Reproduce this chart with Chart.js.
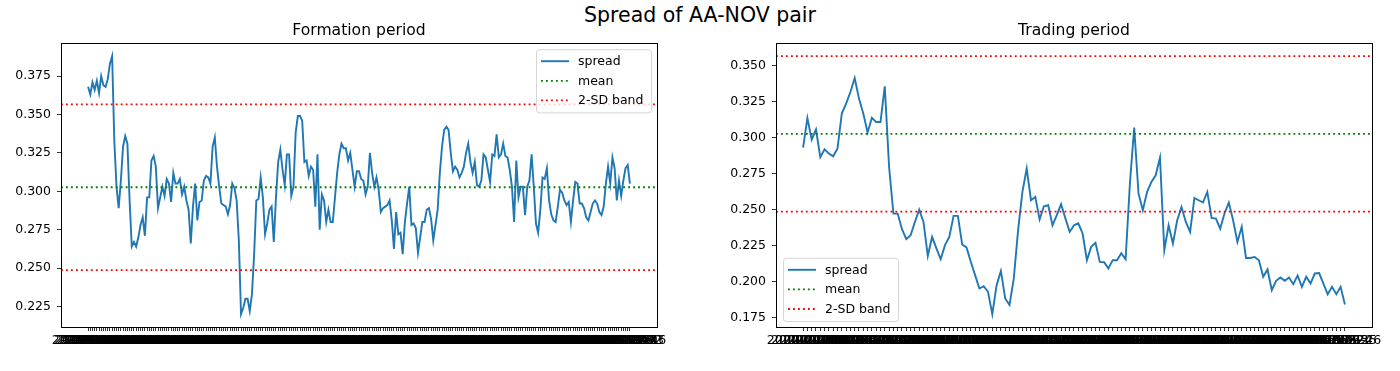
<!DOCTYPE html>
<html>
<head>
<meta charset="utf-8">
<script src="https://cdn.jsdelivr.net/npm/chart.js@4.4.1/dist/chart.umd.min.js"></script>
<style>
  html, body { margin:0; padding:0; background:#fff; width:1400px; height:371px; overflow:hidden; font-family:"DejaVu Sans", sans-serif; }
  #sup { position:absolute; left:0; top:3px; width:1400px; text-align:center; font-size:20.5px; color:#000; line-height:normal; }
  .box { position:absolute; top:0; width:700px; height:371px; }
</style>
</head>
<body>
<div id="sup">Spread of AA-NOV pair</div>
<div class="box" style="left:0"><canvas id="c1" width="700" height="371"></canvas></div>
<div class="box" style="left:700px"><canvas id="c2" width="700" height="371"></canvas></div>
<script>
// ---------------- DATA ----------------
const formationSpread = [
  0.368, 0.363, 0.371, 0.366, 0.372, 0.364, 0.375, 0.369, 0.368, 0.373, 0.383, 0.388,
  0.333, 0.303, 0.289, 0.307, 0.329, 0.336, 0.331, 0.294, 0.264, 0.267, 0.264, 0.270, 0.278, 0.283, 0.271, 0.296, 0.296, 0.320,
  0.323, 0.316, 0.289, 0.296, 0.303, 0.297, 0.308, 0.305, 0.293, 0.312, 0.305, 0.305, 0.308, 0.298, 0.303, 0.294, 0.288, 0.266, 0.290, 0.305,
  0.281, 0.293, 0.294, 0.307, 0.310, 0.309, 0.305, 0.329, 0.335, 0.316, 0.303, 0.292, 0.291, 0.290, 0.285, 0.291, 0.305, 0.302, 0.294, 0.268,
  0.220, 0.224, 0.230, 0.230, 0.222, 0.233, 0.259, 0.294, 0.295,
  0.309, 0.296, 0.272, 0.279, 0.288, 0.290, 0.267, 0.296, 0.319, 0.327,
  0.314, 0.304, 0.324, 0.324, 0.297, 0.303, 0.338, 0.349, 0.349, 0.346,
  0.319, 0.320, 0.310, 0.316, 0.314, 0.290, 0.324, 0.275, 0.298, 0.294,
  0.280, 0.288, 0.280, 0.280, 0.296, 0.312, 0.324, 0.331, 0.328, 0.328,
  0.320, 0.325, 0.314, 0.303, 0.313, 0.313, 0.308, 0.307, 0.298, 0.303,
  0.325, 0.312, 0.303, 0.309, 0.301, 0.2865, 0.289, 0.290, 0.291, 0.294,
  0.281, 0.2625, 0.2865, 0.272, 0.273, 0.259, 0.280, 0.292, 0.303, 0.278,
  0.279, 0.276, 0.260, 0.270, 0.280, 0.280, 0.288, 0.289, 0.282, 0.268,
  0.278, 0.288, 0.312, 0.329, 0.340, 0.342, 0.340, 0.325, 0.313,
  0.316, 0.314, 0.309, 0.312, 0.316, 0.325, 0.331, 0.319, 0.312, 0.319,
  0.304, 0.303, 0.307, 0.324, 0.322, 0.314, 0.306, 0.324, 0.323, 0.337,
  0.322, 0.324, 0.331, 0.323, 0.322, 0.314, 0.303, 0.280, 0.320, 0.296,
  0.303, 0.303, 0.2845, 0.303, 0.307, 0.324, 0.303, 0.279, 0.273, 0.288,
  0.309, 0.308, 0.315, 0.294, 0.285, 0.281, 0.280, 0.290, 0.301, 0.299,
  0.294, 0.291, 0.293, 0.280, 0.294, 0.306, 0.305, 0.292, 0.292, 0.289,
  0.283, 0.281, 0.2865, 0.292, 0.294, 0.292, 0.2865, 0.2845, 0.290, 0.305,
  0.316, 0.305, 0.322, 0.315, 0.294, 0.307, 0.297, 0.307, 0.315, 0.317,
  0.305
];
const tradingSpread = [
  0.2931, 0.3136, 0.2986, 0.3056, 0.2865, 0.2919, 0.2889, 0.2870, 0.2924, 0.3167,
  0.3236, 0.3317, 0.3414, 0.3271, 0.3167, 0.3035, 0.3138, 0.3108, 0.3108, 0.3356,
  0.2796, 0.2472, 0.2472, 0.2364, 0.2294, 0.2322, 0.2414, 0.2500, 0.2414, 0.2178,
  0.2310, 0.2230, 0.2155, 0.2253, 0.2310, 0.2456, 0.2456, 0.2257, 0.2237, 0.2137,
  0.2045, 0.1952, 0.1968, 0.1929, 0.1774, 0.1975, 0.2074, 0.1883, 0.1837, 0.2022,
  0.2357, 0.2623, 0.2785, 0.2565, 0.2588, 0.2431, 0.2523, 0.2530, 0.2391, 0.2461,
  0.2537, 0.2438, 0.2345, 0.2391, 0.2405, 0.2334, 0.2148, 0.2241, 0.2269, 0.2137,
  0.2134, 0.2092, 0.2149, 0.2148, 0.2197, 0.2155, 0.2681, 0.3069, 0.2612, 0.2495,
  0.2623, 0.2692, 0.2738, 0.2861,
  0.2218, 0.2391, 0.2264, 0.2426, 0.2518, 0.2414, 0.2345, 0.2581, 0.2565, 0.2549,
  0.2623, 0.2442, 0.2438, 0.2368, 0.2473, 0.2549, 0.2426, 0.2275, 0.2380, 0.2164,
  0.2164, 0.2171, 0.2148, 0.2033, 0.2084, 0.1940, 0.2005, 0.2028, 0.2005, 0.2028,
  0.1982, 0.2042, 0.1963, 0.2033, 0.1986, 0.2056, 0.2059, 0.1986, 0.1912, 0.1963,
  0.1912, 0.1963, 0.1841
];
const spreadMean = 0.3026;
const bandUpper = 0.3566;
const bandLower = 0.2486;

const formationYTicks = [0.225, 0.250, 0.275, 0.300, 0.325, 0.350, 0.375];
const tradingYTicks   = [0.175, 0.200, 0.225, 0.250, 0.275, 0.300, 0.325, 0.350];

function businessDays(start, count) {
  const out = [];
  const d = new Date(start + 'T00:00:00Z');
  while (out.length < count) {
    const wd = d.getUTCDay();
    if (wd !== 0 && wd !== 6) out.push(d.toISOString().slice(0, 10));
    d.setUTCDate(d.getUTCDate() + 1);
  }
  return out;
}
const formationDates = businessDays('2019-01-02', formationSpread.length);
const tradingDates   = businessDays('2020-01-02', tradingSpread.length);

// ---------------- STYLE ----------------
const FONT = '"DejaVu Sans", sans-serif';
const BLUE = '#1f77b4', GREEN = '#008000', RED = '#ff0000';
const DOT = [1.875, 3.1];

const boxPlugin = {
  id: 'axesBox',
  afterDatasetsDraw(chart) {
    const { ctx, chartArea: a } = chart;
    ctx.save();
    ctx.strokeStyle = '#000';
    ctx.lineWidth = 1;
    ctx.strokeRect(Math.round(a.left) + 0.5, Math.round(a.top) + 0.5,
                   Math.round(a.right - a.left), Math.round(a.bottom - a.top));
    ctx.restore();
  }
};

const legendPlugin = {
  id: 'mplLegend',
  afterDraw(chart, args, opts) {
    const { ctx, chartArea: a } = chart;
    const items = chart.data.datasets.filter(d => !d.hideInLegend);
    const w = 115, rowH = 19.6, h = 12 + rowH * (items.length - 1) + 12;
    const x0 = opts.loc === 'ur' ? a.right - 6 - w : a.left + 7;
    const y0 = opts.loc === 'ur' ? a.top + 6 : a.bottom - 6 - h;
    ctx.save();
    ctx.globalAlpha = 0.8;
    ctx.beginPath();
    if (ctx.roundRect) ctx.roundRect(x0 + 0.5, y0 + 0.5, w, h, 3); else ctx.rect(x0 + 0.5, y0 + 0.5, w, h);
    ctx.fillStyle = '#fff';
    ctx.fill();
    ctx.strokeStyle = '#cccccc';
    ctx.lineWidth = 1;
    ctx.stroke();
    ctx.globalAlpha = 1;
    ctx.font = '12.5px ' + FONT;
    ctx.textBaseline = 'middle';
    ctx.fillStyle = '#000';
    items.forEach((d, i) => {
      const cy = y0 + 12 + i * rowH;
      ctx.beginPath();
      ctx.setLineDash(d.borderDash || []);
      ctx.strokeStyle = d.borderColor;
      ctx.lineWidth = d.borderWidth;
      ctx.moveTo(x0 + 5, cy);
      ctx.lineTo(x0 + 33, cy);
      ctx.stroke();
      ctx.setLineDash([]);
      ctx.fillText(d.label, x0 + 42, cy + 0.5);
    });
    ctx.restore();
  }
};

function makeChart(canvasId, title, values, dates, yTicks, yAxisWidth, legendLoc) {
  const n = values.length;
  const xMin = -0.05 * (n - 1), xMax = 1.05 * (n - 1);
  const lo = Math.min(Math.min(...values), bandLower);
  const hi = Math.max(Math.max(...values), bandUpper);
  const pad = 0.05 * (hi - lo);
  const hline = (v) => [{ x: xMin, y: v }, { x: xMax, y: v }];
  return new Chart(document.getElementById(canvasId), {
    type: 'line',
    data: {
      datasets: [
        { label: 'spread', data: values.map((v, i) => ({ x: i, y: v })), borderColor: BLUE, borderWidth: 1.9, pointRadius: 0, tension: 0, order: 4 },
        { label: 'mean', data: hline(spreadMean), borderColor: GREEN, borderWidth: 1.875, borderDash: DOT, pointRadius: 0, order: 3 },
        { label: '2-SD band', data: hline(bandUpper), borderColor: RED, borderWidth: 1.875, borderDash: DOT, pointRadius: 0, order: 2 },
        { label: '2-SD band', data: hline(bandLower), borderColor: RED, borderWidth: 1.875, borderDash: DOT, pointRadius: 0, order: 1, hideInLegend: true }
      ]
    },
    options: {
      responsive: false,
      animation: false,
      devicePixelRatio: 1,
      layout: { padding: { left: 0, right: 700 - yAxisWidth - 596, top: 0, bottom: 0 } },
      plugins: {
        legend: { display: false },
        tooltip: { enabled: false },
        title: {
          display: true, text: title, color: '#000', fullSize: false,
          font: { family: FONT, size: 15.6, weight: 'normal', lineHeight: 1.2 },
          padding: { top: 21.5, bottom: 3 }
        },
        mplLegend: { loc: legendLoc }
      },
      scales: {
        x: {
          type: 'linear', min: xMin, max: xMax,
          afterBuildTicks: (s) => { s.ticks = dates.map((_, i) => ({ value: i })); },
          afterFit: (s) => { s.height = 44; s.paddingLeft = 0; s.paddingRight = 0; },
          ticks: {
            autoSkip: false, maxRotation: 0, minRotation: 0, padding: 2, color: '#000',
            font: { family: FONT, size: 12.5 },
            callback: (v) => dates[Math.round(v)]
          },
          grid: { drawOnChartArea: false, drawTicks: true, tickLength: 4, color: '#000', tickWidth: 0.8 },
          border: { display: true, color: '#000', width: 1 }
        },
        y: {
          type: 'linear', min: lo - pad, max: hi + pad,
          afterBuildTicks: (s) => { s.ticks = yTicks.map(v => ({ value: v })); },
          afterFit: (s) => { s.width = yAxisWidth; },
          ticks: {
            padding: 6, color: '#000', font: { family: FONT, size: 12.5 },
            callback: (v) => Number(v).toFixed(3)
          },
          grid: { drawOnChartArea: false, drawTicks: true, tickLength: 4, color: '#000', tickWidth: 0.8 },
          border: { display: true, color: '#000', width: 1 }
        }
      }
    },
    plugins: [boxPlugin, legendPlugin]
  });
}

makeChart('c1', 'Formation period', formationSpread, formationDates, formationYTicks, 61, 'ur');
makeChart('c2', 'Trading period', tradingSpread, tradingDates, tradingYTicks, 76, 'll');
</script>
</body>
</html>
